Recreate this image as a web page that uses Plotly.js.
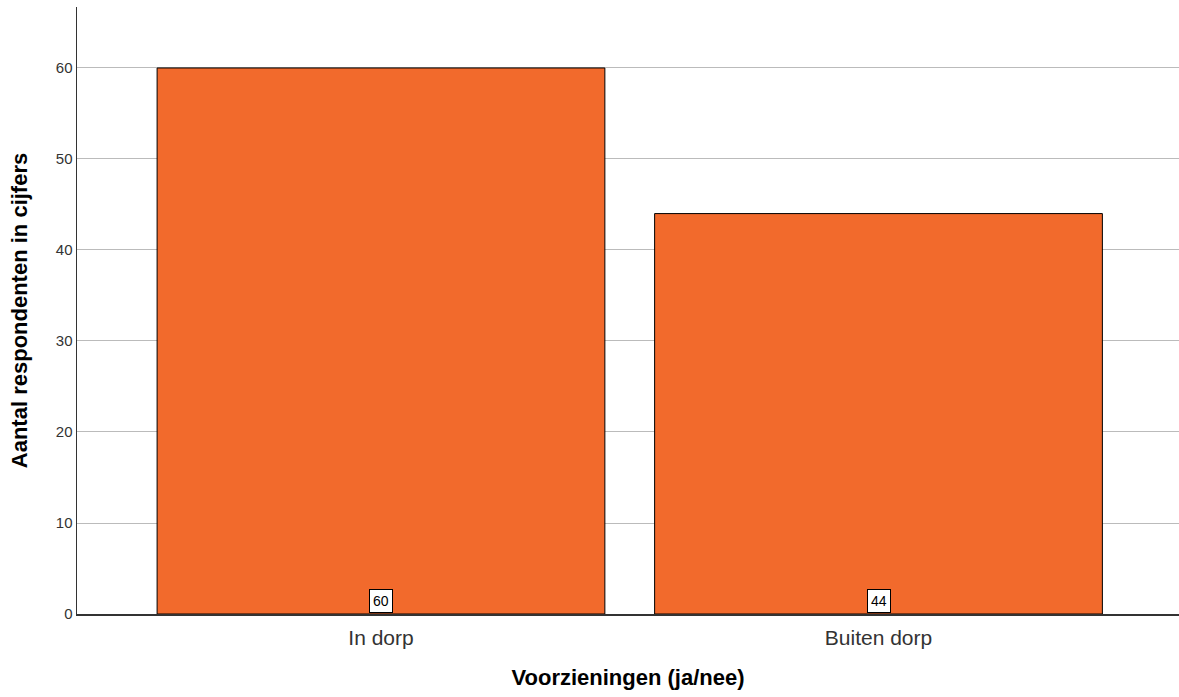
<!DOCTYPE html>
<html><head><meta charset="utf-8">
<script src="https://cdn.plot.ly/plotly-3.0.1.min.js"></script>
<style>html,body{margin:0;padding:0;background:#fff}</style>
</head><body>
<div id="chart" style="width:1179px;height:697px"></div>
<script>
const categories = ["In dorp", "Buiten dorp"];
const counts = [60, 44];
const yTicks = [0, 10, 20, 30, 40, 50, 60];

const trace = {
  type: 'bar',
  x: [0, 1],
  y: counts,
  width: 0.9,
  marker: {color: '#F26A2C', line: {color: '#000', width: 1}},
  hoverinfo: 'none'
};

const annotations = counts.map((v, i) => ({
  x: i, y: 0, xref: 'x', yref: 'y',
  text: String(v), showarrow: false,
  yanchor: 'bottom', yshift: 1,
  font: {family: 'Liberation Sans, Arial, sans-serif', size: 14, color: '#000'},
  bgcolor: '#fff', bordercolor: '#000', borderwidth: 1, borderpad: 3
}));

const layout = {
  width: 1179, height: 697,
  margin: {l: 77, r: 0, t: 7, b: 83},
  paper_bgcolor: '#fff', plot_bgcolor: '#fff',
  showlegend: false,
  font: {family: 'Liberation Sans, Arial, sans-serif', color: '#333'},
  xaxis: {
    range: [-0.611, 1.604],
    tickvals: [0, 1], ticktext: categories,
    tickfont: {size: 21, color: '#333'},
    ticklabelstandoff: 4,
    showgrid: false, zeroline: false,
    showline: true, linecolor: '#333', linewidth: 1.5,
    ticks: '', ticklen: 0,
    title: {text: 'Voorzieningen (ja/nee)', font: {size: 22, color: '#000', weight: 'bold'}, standoff: 22}
  },
  yaxis: {
    range: [0, 66.7],
    tickvals: yTicks,
    tickfont: {size: 15, color: '#333'},
    showgrid: true, gridcolor: '#bbb', gridwidth: 1,
    zeroline: false,
    showline: true, linecolor: '#333', linewidth: 1.5,
    ticks: '', ticklen: 0,
    title: {text: 'Aantal respondenten in cijfers', font: {size: 22, color: '#000', weight: 'bold'}, standoff: 22}
  },
  annotations: annotations
};

Plotly.newPlot('chart', [trace], layout, {displayModeBar: false, staticPlot: true});
</script>
</body></html>
